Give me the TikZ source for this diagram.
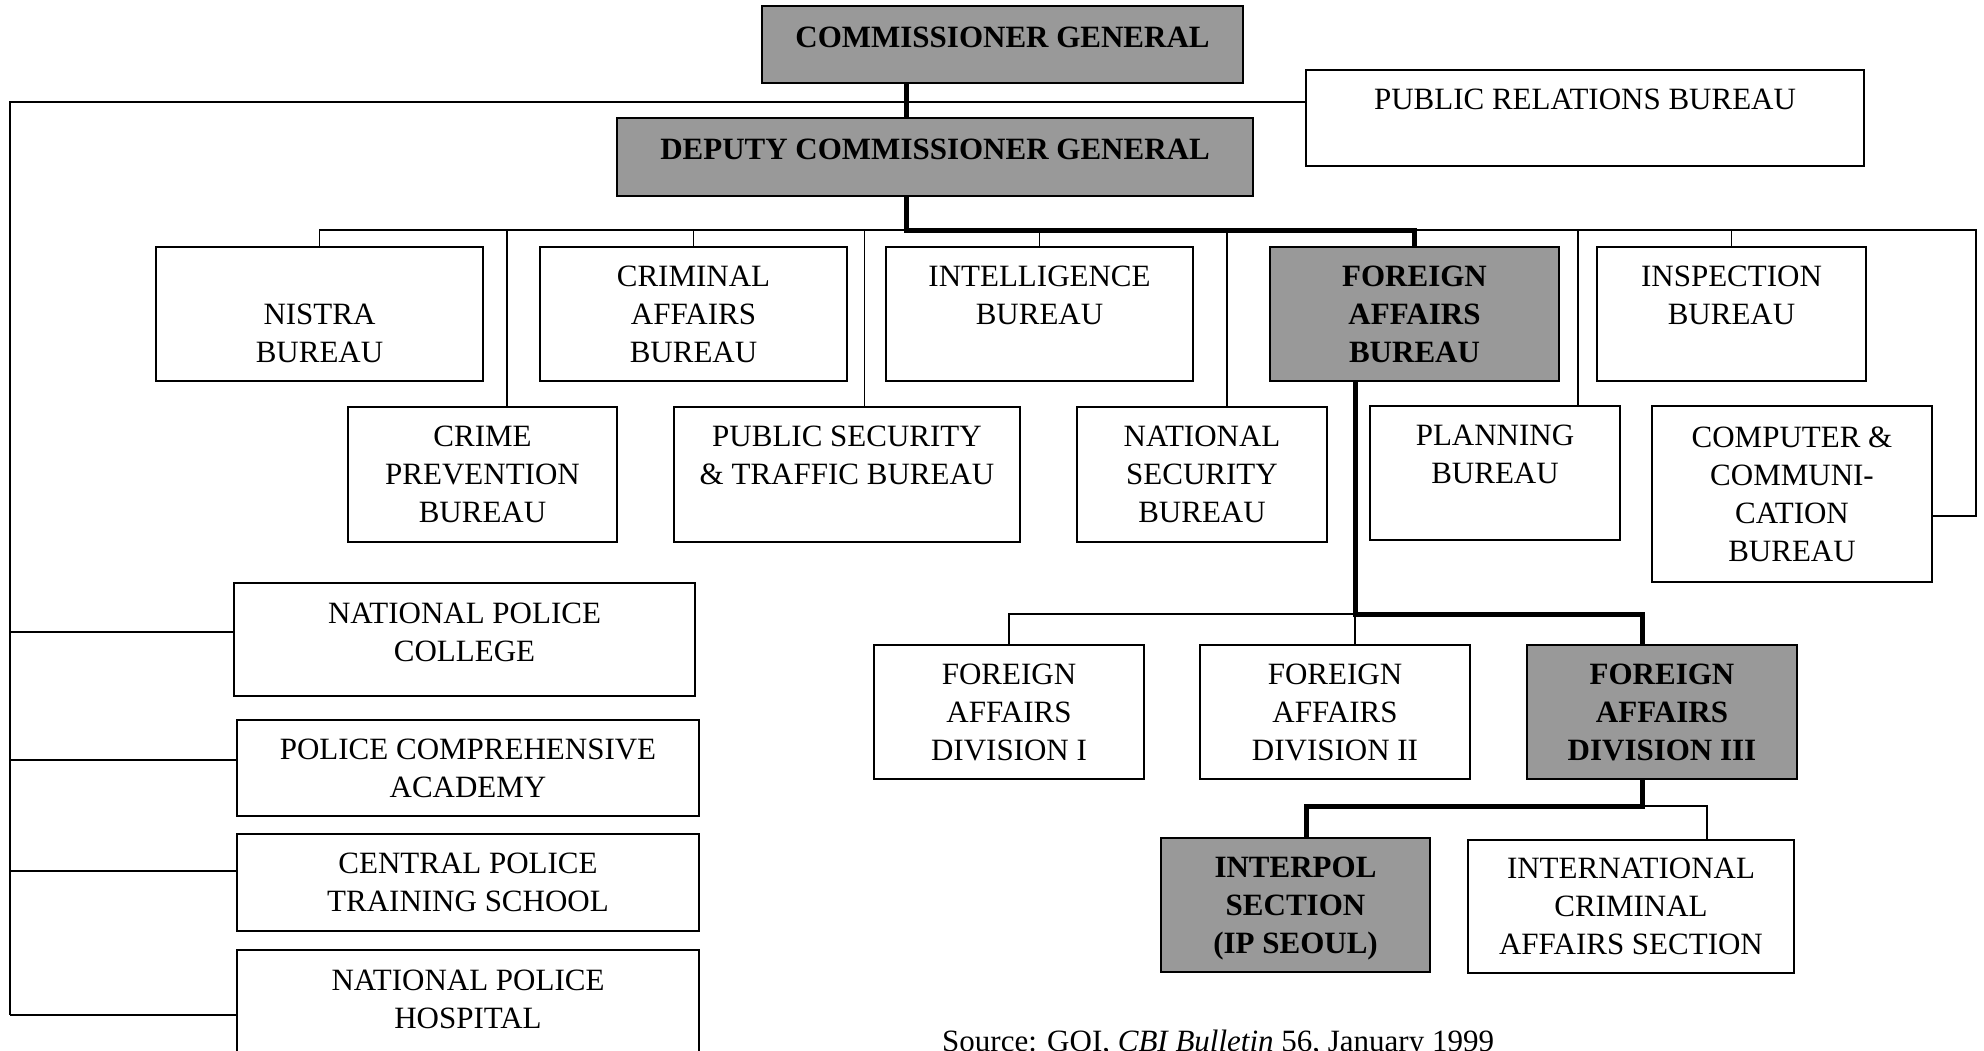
\documentclass[tikz,border=0pt]{standalone}
\usepackage{fontspec}
\setmainfont{Liberation Serif}
\usetikzlibrary{calc}

\begin{document}
\begin{tikzpicture}[x=1pt,y=-1pt]
        \useasboundingbox (0,0) rectangle (1984,1050);

        \definecolor{keygray}{RGB}{153,153,153}
        \tikzstyle{office}=[draw, line width=1.6pt, fill=white, align=center, inner sep=0pt,
                        font=\fontsize{31}{38}\selectfont]
        \tikzstyle{keyoffice}=[office, fill=keygray, font=\fontsize{31}{38}\selectfont\bfseries]
        \tikzstyle{link}=[line width=1.6pt]
        \tikzstyle{mainlink}=[line width=5pt]
        \tikzset{dims/.style 2 args={minimum width=#1pt, minimum height=#2pt}}

        % head offices
        \node[keyoffice, dims={481}{77}, text depth=15pt] (cg) at (1002.5,44.5) {COMMISSIONER GENERAL};
        \node[keyoffice, dims={636}{78}, text depth=15pt] (dcg) at (935,157) {DEPUTY COMMISSIONER GENERAL};
        \node[office, dims={558}{96}] (pr) at (1585,118) {PUBLIC RELATIONS BUREAU\\~};

        % bureaus, first row
        \node[office, dims={327}{134}] (nistra) at (319.5,314) {\vphantom{B}\\NISTRA\\BUREAU};
        \node[office, dims={307}{134}] (criminal) at (693.5,314) {CRIMINAL\\AFFAIRS\\BUREAU};
        \node[office, dims={307}{134}] (intel) at (1039.5,314) {INTELLIGENCE\\BUREAU\\~};
        \node[keyoffice, dims={289}{134}] (fab) at (1414.5,314) {FOREIGN\\AFFAIRS\\BUREAU};
        \node[office, dims={269}{134}] (inspect) at (1731.5,314) {INSPECTION\\BUREAU\\~};

        % bureaus, second row
        \node[office, dims={269}{135}] (crime) at (482.5,474.5) {CRIME\\PREVENTION\\BUREAU};
        \node[office, dims={346}{135}] (pubsec) at (847,474.5) {PUBLIC SECURITY\\\& TRAFFIC BUREAU\\~};
        \node[office, dims={250}{135}] (natsec) at (1202,474.5) {NATIONAL\\SECURITY\\BUREAU};
        \node[office, dims={250}{134}] (planning) at (1495,473) {PLANNING\\BUREAU\\~};
        \node[office, dims={280}{176}] (computer) at (1792,494) {COMPUTER \&\\COMMUNI-\\CATION\\BUREAU};

        % schools
        \node[office, dims={461}{113}, text depth=14pt] (npc) at (464.5,639.5) {NATIONAL POLICE\\COLLEGE};
        \node[office, dims={462}{96}] (pca) at (468,768) {POLICE COMPREHENSIVE\\ACADEMY};
        \node[office, dims={462}{97}] (cpts) at (468,882.5) {CENTRAL POLICE\\TRAINING SCHOOL};
        \node[office, dims={462}{113}, text depth=14pt] (nph) at (468,1006.5) {NATIONAL POLICE\\HOSPITAL};

        % divisions
        \node[office, dims={270}{134}] (fad1) at (1009,712) {FOREIGN\\AFFAIRS\\DIVISION I};
        \node[office, dims={270}{134}] (fad2) at (1335,712) {FOREIGN\\AFFAIRS\\DIVISION II};
        \node[keyoffice, dims={270}{134}] (fad3) at (1662,712) {FOREIGN\\AFFAIRS\\DIVISION III};

        % sections
        \node[keyoffice, dims={269}{134}, text depth=0pt] (ip) at (1295.5,905) {INTERPOL\\SECTION\\(IP SEOUL)};
        \node[office, dims={326}{133}] (icas) at (1631,906.5) {INTERNATIONAL\\CRIMINAL\\AFFAIRS SECTION};

        \node[anchor=base west, inner sep=0pt, font=\fontsize{31}{38}\selectfont] (src) at (942,1051)
                {Source: GOI, \textit{CBI Bulletin} 56, January 1999};

        \coordinate (lt) at (10,102);
        \coordinate (bus) at (906,230);
        \coordinate (busR) at (1976,230);
        \coordinate (divbus) at (1355,614);
        \coordinate (secbus) at (1642,806);

        % thin links
        \draw[link] (pr.west |- lt) -- (lt) -- ([yshift=-8.5pt]nph.west -| lt);
        \foreach \n/\s in {npc/7.5, pca/8, cpts/11.5, nph/-8.5}
            \draw[link] ([yshift=\s pt]\n.west) coordinate (w) -- (w -| lt);
        \draw[link] (nistra.north) |- (busR) |- ($(computer.east)+(0,22)$);
        \foreach \n in {criminal, intel, inspect}
            \draw[link] (\n.north) -- (\n.north |- bus);
        \foreach \n/\f in {crime/.59, pubsec/.55, natsec/.6, planning/.83}
            \draw[link] ($(\n.north west)!\f!(\n.north east)$) coordinate (d) -- (d |- bus);
        \draw[link] (fad1.north) |- (divbus) -- (fad2.north -| divbus);
        \draw[link] (secbus) -| ([xshift=76pt]icas.north);

        % thick links
        \draw[mainlink] (cg.south -| bus) -- (dcg.north -| bus);
        \draw[mainlink] (dcg.south -| bus) -- (bus) -| (fab.north);
        \draw[mainlink] (fab.south -| divbus) -- (divbus) -| (fad3.north -| secbus);
        \draw[mainlink] (fad3.south -| secbus) -- (secbus) -| ([xshift=11pt]ip.north);

\end{tikzpicture}
\end{document}
